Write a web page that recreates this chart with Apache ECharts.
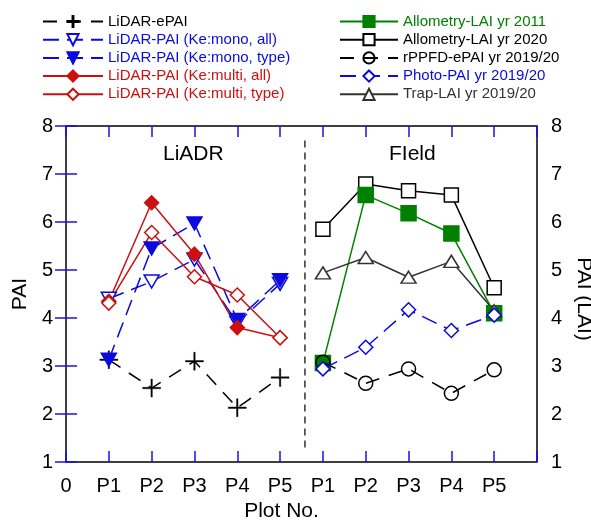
<!DOCTYPE html>
<html><head><meta charset="utf-8">
<script src="https://cdn.jsdelivr.net/npm/echarts@6/dist/echarts.min.js"></script>
<style>html,body{margin:0;padding:0;background:#fff}#c{width:591px;height:521px}</style>
</head><body><div id="c"></div>
<script>
// ---- data ----
const categories = ['P1','P2','P3','P4','P5'];
const xTickLabels = ['0','P1','P2','P3','P4','P5','P1','P2','P3','P4','P5',''];
const yTicks = [1,2,3,4,5,6,7,8];
// LiDAR (left block, x = 1..5)
const lidarEPAI = [3.13, 2.54, 3.10, 2.13, 2.76];
const monoAll   = [4.40, 4.76, 5.22, 3.90, 4.71];
const monoType  = [3.13, 5.45, 5.97, 3.96, 4.79];
const multiAll  = [4.35, 6.40, 5.33, 3.80, 3.59];
const multiType = [4.31, 5.78, 4.86, 4.48, 3.59];
// Field (right block, x = 6..10)
const allom2011 = [3.06, 6.56, 6.18, 5.76, 4.10];
const allom2020 = [5.85, 6.79, 6.65, 6.56, 4.63];
const rppfd     = [3.08, 2.64, 2.94, 2.43, 2.92];
const photo     = [2.94, 3.39, 4.17, 3.74, 4.06];
const trap      = [4.94, 5.26, 4.85, 5.18, 4.15];
const dividerX = 5.58;

const FONT = "'Liberation Sans', Arial, sans-serif";
const BLUE = '#0a0ae0', RED = '#cc1010', GREEN = '#008000', GRAY = '#333333';
const PLUS = 'path://M4.6,0h0.8v4.6h4.6v0.8h-4.6v4.6h-0.8v-4.6h-4.6v-0.8h4.6z';

const lidarPts = v => v.map((y,i)=>[i+1,y]);
const fieldPts = v => v.map((y,i)=>[i+6,y]);

function ser(name, data, o){
  return {
    name, type:'line', data, xAxisIndex:0, yAxisIndex:0,
    lineStyle:{color:o.color, width:1.5, type:o.dash||'solid'},
    itemStyle:{color:o.fill||o.color, borderColor:o.color, borderWidth:o.bw||1.5},
    symbol:o.symbol, symbolSize:o.size, symbolRotate:o.rot||0,
    animation:false, z:o.z||2
  };
}

const series = [
  ser('LiDAR-ePAI', lidarPts(lidarEPAI), {color:'#000', dash:[14,10], symbol:PLUS, size:18, bw:0.4}),
  ser('LiDAR-PAI (Ke:mono, all)', lidarPts(monoAll), {color:BLUE, dash:[16,8], symbol:'triangle', rot:180, size:[15,13], fill:'#fff'}),
  ser('LiDAR-PAI (Ke:mono, type)', lidarPts(monoType), {color:BLUE, dash:[16,8], symbol:'triangle', rot:180, size:[15,13]}),
  ser('LiDAR-PAI (Ke:multi, all)', lidarPts(multiAll), {color:RED, symbol:'diamond', size:[14,14]}),
  ser('LiDAR-PAI (Ke:multi, type)', lidarPts(multiType), {color:RED, symbol:'diamond', size:[14,14], fill:'#fff'}),
  ser('Allometry-LAI yr 2011', fieldPts(allom2011), {color:GREEN, symbol:'rect', size:15}),
  ser('Allometry-LAI yr 2020', fieldPts(allom2020), {color:'#000', symbol:'rect', size:14, fill:'#fff', z:1}),
  ser('rPPFD-ePAI yr 2019/20', fieldPts(rppfd), {color:'#000', dash:[14,10], symbol:'circle', size:14, fill:'rgba(255,255,255,0)', z:3}),
  ser('Photo-PAI yr 2019/20', fieldPts(photo), {color:BLUE, dash:[16,8], symbol:'diamond', size:[14,14], fill:'#fff', z:4}),
  ser('Trap-LAI yr 2019/20', fieldPts(trap), {color:GRAY, symbol:'triangle', size:[15,12], fill:'#fff'}),
  {
    name:'divider', type:'line', data:[[dividerX,1.3],[dividerX,7.77]], symbol:'none',
    lineStyle:{color:'#333', width:1.5, type:[7,5]}, animation:false, silent:true, z:1
  }
];

const leftNames = series.slice(0,5).map(s=>s.name);
const rightNames = series.slice(5,10).map(s=>s.name);
const leftColors = ['#000', BLUE, BLUE, RED, RED];
const rightColors = [GREEN, '#000', '#000', BLUE, GRAY];

function legend(left, width, names, colors){
  return {
    orient:'vertical', left, top:9, itemWidth:width, itemHeight:14, itemGap:3.2,
    textStyle:{fontFamily:FONT, fontSize:15, lineHeight:14},
    selectedMode:false,
    data:names.map((n,i)=>({name:n, textStyle:{color:colors[i]}}))
  };
}
const tick = () => ({show:true, inside:true, length:11, lineStyle:{color:'#1515e6', width:1.5}});
const aline = () => ({show:false});

const option = {
  backgroundColor:'#fff',
  animation:false,
  grid:{left:66, right:54, top:126, bottom:59, outerBoundsMode:'none', containLabel:false,
        show:true, borderColor:'#000', borderWidth:1.5, backgroundColor:'transparent'},
  legend:[
    legend(37, 60, leftNames, leftColors),
    legend(334, 58, rightNames, rightColors)
  ],
  xAxis:[
    {type:'value', min:0, max:11, interval:1, position:'bottom',
     axisLine:aline(), axisTick:tick(), splitLine:{show:false},
     axisLabel:{fontFamily:FONT, fontSize:20, color:'#000', margin:14,
       formatter:v=>xTickLabels[Math.round(v)]},
     name:'Plot No.', nameLocation:'middle', nameGap:39,
     nameTextStyle:{fontFamily:FONT, fontSize:21, color:'#000', padding:[0,40,0,0]}},
    {type:'value', min:0, max:11, interval:1, position:'top',
     axisLine:aline(), axisTick:tick(), splitLine:{show:false}, axisLabel:{show:false}}
  ],
  yAxis:[
    {type:'value', min:yTicks[0], max:yTicks[yTicks.length-1], interval:1, position:'left',
     axisLine:aline(), axisTick:tick(), splitLine:{show:false},
     axisLabel:{fontFamily:FONT, fontSize:20, color:'#000', margin:13},
     name:'PAI', nameLocation:'middle', nameGap:34, nameRotate:90,
     nameTextStyle:{fontFamily:FONT, fontSize:21, color:'#000'}},
    {type:'value', min:yTicks[0], max:yTicks[yTicks.length-1], interval:1, position:'right',
     axisLine:aline(), axisTick:tick(), splitLine:{show:false},
     axisLabel:{fontFamily:FONT, fontSize:20, color:'#000', margin:14},
     name:'PAI (LAI)', nameLocation:'middle', nameGap:29, nameRotate:-90,
     nameTextStyle:{fontFamily:FONT, fontSize:21, color:'#000', padding:[0,0,0,10]}}
  ],
  graphic:[
    {type:'text', left:163, top:144, style:{text:'LiADR', fontFamily:FONT, fontSize:21, fill:'#000'}},
    {type:'text', left:389, top:144, style:{text:'FIeld', fontFamily:FONT, fontSize:21, fill:'#000'}}
  ],
  series
};
const chart = echarts.init(document.getElementById('c'), null, {renderer:'canvas'});
chart.setOption(option);
</script>
</body></html>
